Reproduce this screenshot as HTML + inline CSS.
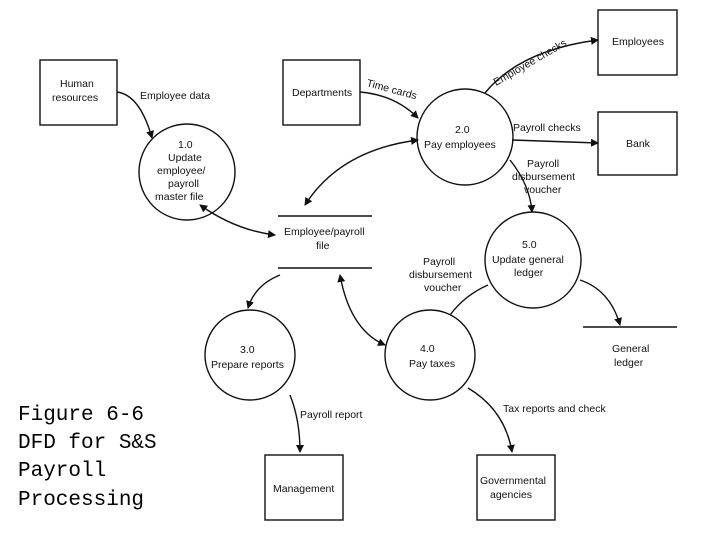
<!DOCTYPE html>
<html><head><meta charset="utf-8"><style>
body{margin:0;background:#fff;width:720px;height:540px;overflow:hidden}
svg{display:block}
text{font-family:"Liberation Sans",sans-serif;font-size:10.5px;fill:#111}
.cap{font-family:"Liberation Mono",monospace;font-size:21px;fill:#000}
</style></head><body>
<svg width="720" height="540" viewBox="0 0 720 540">
<defs><marker id="a" markerWidth="8" markerHeight="8" refX="7" refY="4" orient="auto" markerUnits="userSpaceOnUse"><path d="M0,0 L8,4 L0,8 z" fill="#111"/></marker>
<marker id="s" markerWidth="8" markerHeight="8" refX="1" refY="4" orient="auto" markerUnits="userSpaceOnUse"><path d="M8,0 L0,4 L8,8 z" fill="#111"/></marker></defs>
<g fill="none" stroke="#111" stroke-width="1.4">
<rect x="40" y="60" width="77" height="65"/>
<rect x="283" y="60" width="77" height="65"/>
<rect x="598" y="10" width="79" height="65"/>
<rect x="598" y="112" width="79" height="63"/>
<rect x="265" y="455" width="78" height="65"/>
<rect x="477" y="455" width="78" height="65"/>
<circle cx="187" cy="172" r="48"/>
<circle cx="465" cy="137" r="48"/>
<circle cx="533" cy="260" r="48"/>
<circle cx="250" cy="355" r="45"/>
<circle cx="430" cy="355" r="45"/>
<line x1="278" y1="216" x2="372" y2="216"/>
<line x1="278" y1="268" x2="372" y2="268"/>
<line x1="583" y1="327" x2="677" y2="327"/>
<path d="M117 92 Q140 95 152 138" marker-end="url(#a)"/>
<path d="M360 92 Q395 95 418 118" marker-end="url(#a)"/>
<path d="M485 93 Q520 50 598 40" marker-end="url(#a)"/>
<path d="M512 140 L598 143" marker-end="url(#a)"/>
<path d="M510 160 Q530 185 532 212" marker-end="url(#a)"/>
<path d="M418 140 Q340 150 305 205" marker-start="url(#s)" marker-end="url(#a)"/>
<path d="M200 205 Q235 230 275 235" marker-start="url(#s)" marker-end="url(#a)"/>
<path d="M280 275 Q255 285 248 308" marker-end="url(#a)"/>
<path d="M340 275 Q350 330 385 345" marker-start="url(#s)" marker-end="url(#a)"/>
<path d="M450 315 Q465 295 488 285"/>
<path d="M580 280 Q610 290 620 325" marker-end="url(#a)"/>
<path d="M290 395 Q300 420 300 452" marker-end="url(#a)"/>
<path d="M468 388 Q505 410 512 452" marker-end="url(#a)"/>
</g>
<text x="60" y="87">Human</text><text x="52" y="101">resources</text>
<text x="140" y="99">Employee data</text>
<text x="292" y="96">Departments</text>
<text x="366" y="86" transform="rotate(15 366 86)">Time cards</text>
<text x="496" y="86" transform="rotate(-30 496 86)">Employee checks</text>
<text x="612" y="45">Employees</text>
<text x="626" y="147">Bank</text>
<text x="513" y="131">Payroll checks</text>
<text x="527" y="167">Payroll</text><text x="512" y="180">disbursement</text><text x="524" y="193">voucher</text>
<text x="455" y="133">2.0</text><text x="424" y="148">Pay employees</text>
<text x="178" y="148">1.0</text><text x="168" y="161">Update</text><text x="157" y="174">employee/</text><text x="168" y="187">payroll</text><text x="155" y="200">master file</text>
<text x="284" y="235">Employee/payroll</text><text x="316" y="249">file</text>
<text x="522" y="248">5.0</text><text x="492" y="263">Update general</text><text x="514" y="276">ledger</text>
<text x="423" y="265">Payroll</text><text x="409" y="278">disbursement</text><text x="424" y="291">voucher</text>
<text x="612" y="352">General</text><text x="614" y="366">ledger</text>
<text x="240" y="353">3.0</text><text x="211" y="368">Prepare reports</text>
<text x="420" y="352">4.0</text><text x="409" y="367">Pay taxes</text>
<text x="300" y="418">Payroll report</text>
<text x="503" y="412">Tax reports and check</text>
<text x="273" y="492">Management</text>
<text x="480" y="484">Governmental</text><text x="490" y="498">agencies</text>
<text class="cap" x="18" y="420">Figure 6-6</text>
<text class="cap" x="18" y="448">DFD for S&amp;S</text>
<text class="cap" x="18" y="476">Payroll</text>
<text class="cap" x="18" y="505">Processing</text>
</svg>
</body></html>
